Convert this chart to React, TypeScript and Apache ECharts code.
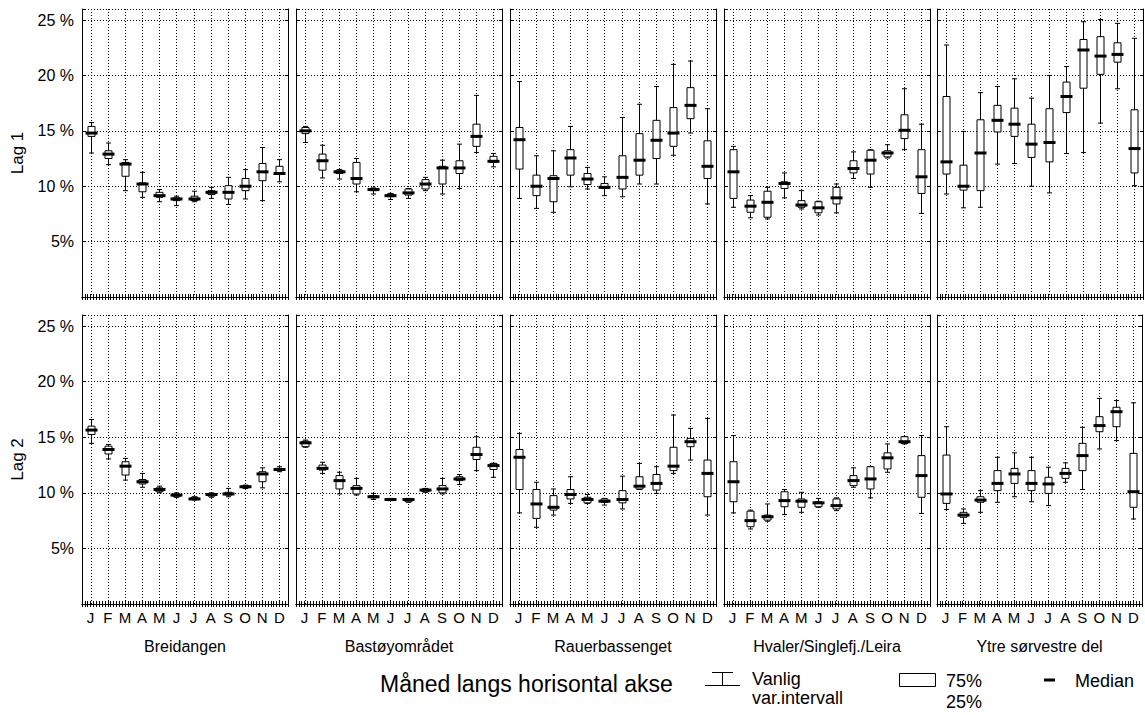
import React, { useEffect, useRef } from "react";
import * as echarts from "echarts";

const months = ["J", "F", "M", "A", "M", "J", "J", "A", "S", "O", "N", "D"];
const areas = ["Breidangen", "Bastøyområdet", "Rauerbassenget", "Hvaler/Singlefj./Leira", "Ytre sørvestre del"];
const layers = ["Lag 1", "Lag 2"];
const yTickLabels: Record<number, string> = { 5: "5%", 10: "10 %", 15: "15 %", 20: "20 %", 25: "25 %" };

// [min, 25%, median, 75%, max] per month J..D
const breidangenLag1 = [
  [13.0, 14.5, 14.8, 15.4, 15.75], [11.95, 12.5, 12.9, 13.2, 13.9], [9.6, 10.9, 12.0, 12.15, 12.4],
  [9.0, 9.5, 10.2, 10.3, 11.25], [8.6, 9.0, 9.15, 9.45, 9.7], [8.25, 8.7, 8.85, 8.95, 9.1],
  [8.6, 8.7, 8.85, 9.1, 9.55], [8.9, 9.25, 9.45, 9.6, 9.9], [8.35, 8.85, 9.45, 10.05, 10.8],
  [8.85, 9.6, 10.0, 10.7, 11.5], [8.7, 10.5, 11.3, 12.05, 13.5], [10.4, 11.1, 11.15, 11.8, 12.4],
];
const bastoyLag1 = [
  [13.95, 14.75, 15.0, 15.3, 15.4], [10.75, 11.45, 12.3, 12.9, 13.7], [10.65, 11.15, 11.3, 11.45, 11.5],
  [9.5, 10.2, 10.7, 12.15, 12.5], [9.3, 9.6, 9.7, 9.8, 9.85], [8.8, 9.05, 9.15, 9.3, 9.35],
  [8.9, 9.2, 9.4, 9.75, 9.8], [9.6, 9.75, 10.2, 10.6, 10.8], [9.3, 10.2, 11.65, 11.8, 12.35],
  [9.8, 11.15, 11.65, 12.3, 13.8], [13.05, 13.6, 14.5, 15.6, 18.2], [11.75, 12.15, 12.25, 12.7, 12.95],
];
const rauerLag1 = [
  [8.9, 11.55, 14.2, 15.3, 19.45], [8.0, 9.15, 10.0, 11.0, 12.75], [7.65, 8.6, 10.7, 10.95, 13.2],
  [9.95, 11.0, 12.55, 13.3, 15.4], [9.75, 10.15, 10.65, 11.15, 11.7], [9.15, 9.8, 9.9, 10.25, 10.85],
  [9.05, 9.75, 10.8, 12.75, 16.2], [10.2, 11.0, 12.35, 14.75, 17.4], [10.2, 12.5, 14.15, 15.95, 19.0],
  [12.8, 13.6, 14.8, 17.1, 21.0], [14.8, 16.1, 17.3, 18.9, 21.3], [8.4, 10.7, 11.8, 14.1, 17.0],
];
const hvalerLag1 = [
  [8.1, 8.9, 11.3, 13.3, 13.6], [7.15, 7.65, 8.2, 8.75, 9.15], [7.05, 7.2, 8.55, 9.55, 9.9],
  [8.95, 9.8, 10.25, 10.4, 11.2], [7.95, 8.1, 8.3, 8.7, 9.6], [7.4, 7.6, 8.05, 8.6, 8.65],
  [7.6, 8.4, 8.95, 9.9, 10.2], [10.7, 11.2, 11.6, 12.3, 13.1], [9.9, 11.1, 12.35, 13.25, 13.3],
  [12.55, 12.65, 13.0, 13.2, 13.75], [13.3, 14.3, 15.05, 16.45, 18.8], [7.55, 9.35, 10.85, 13.3, 15.6],
];
const ytreLag1 = [
  [9.3, 11.1, 12.2, 18.1, 22.75], [8.05, 9.65, 10.0, 11.9, 14.95], [8.1, 9.6, 13.0, 16.0, 18.45],
  [12.0, 14.9, 15.95, 17.3, 19.0], [12.05, 14.5, 15.6, 17.05, 19.7], [10.0, 12.6, 13.8, 15.6, 17.95],
  [9.4, 12.2, 13.95, 17.0, 20.0], [12.95, 16.65, 18.1, 19.4, 20.8], [13.05, 18.85, 22.3, 23.25, 24.85],
  [15.7, 20.1, 21.75, 23.5, 25.05], [18.8, 21.2, 21.9, 22.95, 24.7], [10.05, 11.2, 13.4, 16.9, 23.35],
];
const breidangenLag2 = [
  [14.45, 15.25, 15.65, 16.0, 16.6], [13.05, 13.5, 13.9, 14.2, 14.35], [11.15, 11.6, 12.4, 12.8, 13.1],
  [10.5, 10.8, 11.0, 11.2, 11.75], [10.0, 10.1, 10.3, 10.45, 10.6], [9.6, 9.65, 9.8, 9.9, 10.0],
  [9.35, 9.4, 9.45, 9.6, 9.65], [9.6, 9.7, 9.85, 9.95, 10.0], [9.65, 9.8, 9.9, 10.05, 10.4],
  [10.4, 10.45, 10.55, 10.65, 10.7], [10.45, 11.0, 11.7, 11.9, 12.25], [11.9, 12.0, 12.1, 12.2, 12.35],
];
const bastoyLag2 = [
  [14.1, 14.15, 14.5, 14.65, 14.75], [11.75, 12.05, 12.2, 12.5, 12.75], [9.9, 10.35, 11.1, 11.55, 11.85],
  [9.8, 9.9, 10.4, 10.65, 11.3], [9.4, 9.55, 9.65, 9.75, 9.95], [9.3, 9.35, 9.4, 9.45, 9.5],
  [9.15, 9.2, 9.4, 9.45, 9.5], [10.05, 10.1, 10.25, 10.35, 10.4], [9.9, 10.0, 10.35, 10.65, 11.3],
  [10.75, 11.1, 11.25, 11.45, 11.65], [12.0, 13.0, 13.45, 14.1, 15.05], [11.4, 12.1, 12.45, 12.65, 12.65],
];
const rauerLag2 = [
  [8.2, 10.3, 13.2, 13.9, 15.35], [6.9, 7.7, 9.0, 10.3, 10.95], [8.0, 8.45, 8.7, 9.75, 10.35],
  [9.05, 9.45, 9.85, 10.3, 11.45], [9.05, 9.1, 9.4, 9.6, 9.85], [8.9, 9.15, 9.25, 9.45, 9.5],
  [8.55, 9.1, 9.4, 10.2, 11.5], [10.3, 10.35, 10.6, 11.45, 12.65], [9.95, 10.25, 10.85, 11.65, 12.35],
  [11.75, 12.0, 12.4, 14.1, 17.0], [12.95, 14.15, 14.6, 14.9, 15.8], [8.0, 9.65, 11.75, 12.95, 16.7],
];
const hvalerLag2 = [
  [8.2, 9.2, 11.0, 12.8, 15.15], [6.75, 6.95, 7.5, 8.35, 8.45], [7.45, 7.55, 7.85, 8.0, 9.0],
  [8.05, 8.75, 9.3, 10.1, 10.3], [8.25, 8.7, 9.25, 9.45, 10.05], [8.7, 8.75, 9.1, 9.2, 9.5],
  [8.4, 8.55, 8.85, 9.45, 9.55], [10.5, 10.65, 11.1, 11.55, 12.25], [9.55, 10.35, 11.25, 12.35, 12.35],
  [11.85, 12.15, 13.15, 13.6, 14.4], [14.4, 14.45, 14.6, 15.05, 15.05], [8.15, 9.6, 11.55, 13.35, 15.15],
];
const ytreLag2 = [
  [8.5, 9.05, 9.9, 13.4, 15.95], [7.25, 7.8, 8.0, 8.25, 8.55], [8.25, 9.15, 9.35, 9.65, 10.2],
  [9.15, 10.2, 10.85, 12.0, 13.2], [9.65, 10.85, 11.7, 12.2, 13.6], [9.2, 10.2, 10.85, 12.0, 13.2],
  [8.85, 9.95, 10.8, 11.4, 12.3], [10.95, 11.3, 11.75, 12.2, 12.7], [10.3, 12.0, 13.35, 14.45, 15.9],
  [13.95, 15.5, 16.05, 16.85, 18.5], [14.7, 15.95, 17.3, 17.7, 18.3], [7.65, 8.7, 10.1, 13.55, 18.1],
];

const panels = [
  [breidangenLag1, bastoyLag1, rauerLag1, hvalerLag1, ytreLag1],
  [breidangenLag2, bastoyLag2, rauerLag2, hvalerLag2, ytreLag2],
];

const FONT = "'Liberation Sans', Arial, Helvetica, sans-serif";
const SUB = 6; // minor tick subdivisions per month
const Y_MAX = 26;

export default function App() {
  const ref = useRef<HTMLDivElement>(null);

  useEffect(() => {
    if (!ref.current) return;
    const chart = echarts.init(ref.current, undefined, { renderer: "svg" });

    const gridLefts = [82, 296, 510, 724, 937];
    const gridWidth = 206;
    const rowTops = [9, 315];
    const rowHeights = [288, 289];

    const grid: any[] = [];
    const xAxis: any[] = [];
    const yAxis: any[] = [];
    const series: any[] = [];

    const axisLine = { show: true, lineStyle: { color: "#000", width: 1 } };
    const tick = { show: true, inside: true, length: 3, lineStyle: { color: "#000", width: 1 } };

    for (let r = 0; r < 2; r++) {
      for (let c = 0; c < 5; c++) {
        const g = grid.length;
        grid.push({ left: gridLefts[c], top: rowTops[r], width: gridWidth, height: rowHeights[r] });
        const xBase = {
          type: "value",
          gridIndex: g,
          min: SUB / 2,
          max: SUB * 12 + SUB / 2,
          interval: 1,
          axisLine,
          axisTick: tick,
          splitLine: { show: false },
        };
        xAxis.push({
          ...xBase,
          position: "bottom",
          axisLabel: {
            show: r === 1,
            color: "#000",
            fontSize: 15,
            fontFamily: FONT,
            margin: 6,
            formatter: (v: number) => (v % SUB === 0 ? months[v / SUB - 1] ?? "" : ""),
          },
          name: r === 1 ? areas[c] : "",
          nameLocation: "middle",
          nameGap: 34,
          nameTextStyle: { color: "#000", fontSize: 16, fontFamily: FONT, verticalAlign: "top" },
        });
        xAxis.push({ ...xBase, position: "top", axisLabel: { show: false } });

        const yBase = {
          type: "value",
          gridIndex: g,
          min: 0,
          max: Y_MAX,
          interval: 5,
          axisLine,
          axisTick: tick,
        };
        yAxis.push({
          ...yBase,
          position: "left",
          axisLabel: {
            show: c === 0,
            color: "#000",
            fontSize: 16,
            fontFamily: FONT,
            margin: 8,
            formatter: (v: number) => yTickLabels[v] ?? "",
          },
          splitLine: { show: true, lineStyle: { color: "#000", width: 1, type: [1, 2] } },
          name: c === 0 ? layers[r] : "",
          nameLocation: "middle",
          nameRotate: 90,
          nameGap: 56,
          nameTextStyle: { color: "#000", fontSize: 17, fontFamily: FONT },
        });
        yAxis.push({ ...yBase, position: "right", axisLabel: { show: false }, splitLine: { show: false } });

        const data = panels[r][c].map((d, i) => [(i + 1) * SUB, ...d]);
        series.push({
          type: "custom",
          xAxisIndex: 2 * g,
          yAxisIndex: 2 * g,
          data,
          encode: { x: 0, y: [1, 2, 3, 4, 5] },
          renderItem: (_params: any, api: any) => {
            const x = api.value(0);
            const pMin = api.coord([x, api.value(1)]);
            const pQ1 = api.coord([x, api.value(2)]);
            const pMed = api.coord([x, api.value(3)]);
            const pQ3 = api.coord([x, api.value(4)]);
            const pMax = api.coord([x, api.value(5)]);
            const pTop = api.coord([x, Y_MAX]);
            const pBot = api.coord([x, 0]);
            const cx = Math.round(pMin[0]) + 0.5;
            const stroke = { stroke: "#000", lineWidth: 1 };
            return {
              type: "group",
              children: [
                { type: "line", shape: { x1: cx, y1: pTop[1], x2: cx, y2: pBot[1] }, style: { stroke: "#000", lineWidth: 1, lineDash: [1, 2] } },
                { type: "line", shape: { x1: cx, y1: pMax[1], x2: cx, y2: pMin[1] }, style: stroke },
                { type: "line", shape: { x1: cx - 2.5, y1: pMax[1], x2: cx + 2.5, y2: pMax[1] }, style: stroke },
                { type: "line", shape: { x1: cx - 2.5, y1: pMin[1], x2: cx + 2.5, y2: pMin[1] }, style: stroke },
                { type: "rect", shape: { x: cx - 3.5, y: pQ3[1], width: 7, height: Math.max(pQ1[1] - pQ3[1], 1) }, style: { fill: "#fff", stroke: "#000", lineWidth: 1 } },
                { type: "rect", shape: { x: cx - 6, y: pMed[1] - 1.5, width: 12, height: 3 }, style: { fill: "#000" } },
              ],
            };
          },
        });
      }
    }

    const txt = { fill: "#000", fontFamily: FONT };
    const graphic = [
      { type: "text", left: 380, top: 672, style: { ...txt, text: "Måned langs horisontal akse", fontSize: 23 } },
      { type: "line", shape: { x1: 712, y1: 672.5, x2: 733, y2: 672.5 }, style: { stroke: "#000", lineWidth: 1 } },
      { type: "line", shape: { x1: 722.5, y1: 672.5, x2: 722.5, y2: 685.5 }, style: { stroke: "#000", lineWidth: 1 } },
      { type: "line", shape: { x1: 705, y1: 685.5, x2: 740, y2: 685.5 }, style: { stroke: "#000", lineWidth: 1 } },
      { type: "text", left: 752, top: 670, style: { ...txt, text: "Vanlig", fontSize: 18 } },
      { type: "text", left: 752, top: 689, style: { ...txt, text: "var.intervall", fontSize: 18 } },
      { type: "rect", shape: { x: 899.5, y: 673.5, width: 36, height: 13 }, style: { fill: "#fff", stroke: "#000", lineWidth: 1 } },
      { type: "text", left: 946, top: 672, style: { ...txt, text: "75%", fontSize: 18 } },
      { type: "text", left: 946, top: 693, style: { ...txt, text: "25%", fontSize: 18 } },
      { type: "rect", shape: { x: 1044, y: 678.5, width: 11, height: 3 }, style: { fill: "#000" } },
      { type: "text", left: 1075, top: 672, style: { ...txt, text: "Median", fontSize: 18 } },
    ];

    chart.setOption({
      animation: false,
      backgroundColor: "#fff",
      textStyle: { fontFamily: FONT },
      grid,
      xAxis,
      yAxis,
      series,
      graphic,
    });

    return () => chart.dispose();
  }, []);

  return <div ref={ref} style={{ position: "fixed", left: 0, top: 0, width: 1145, height: 715 }} />;
}
